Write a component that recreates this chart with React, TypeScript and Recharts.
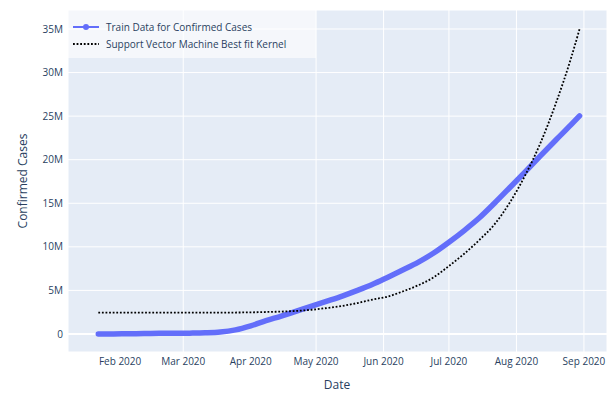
import React from "react";
import {
  LineChart,
  Line,
  XAxis,
  YAxis,
  CartesianGrid,
  ReferenceLine,
} from "recharts";

// weekly snapshots, Jan 22 -> Aug 30 2020
const dates = [
  "2020-01-22", "2020-01-29", "2020-02-05", "2020-02-12", "2020-02-19",
  "2020-02-26", "2020-03-04", "2020-03-11", "2020-03-18", "2020-03-25",
  "2020-04-01", "2020-04-08", "2020-04-15", "2020-04-22", "2020-04-29",
  "2020-05-06", "2020-05-13", "2020-05-20", "2020-05-27", "2020-06-03",
  "2020-06-10", "2020-06-17", "2020-06-24", "2020-07-01", "2020-07-08",
  "2020-07-15", "2020-07-22", "2020-07-29", "2020-08-05", "2020-08-12",
  "2020-08-19", "2020-08-26", "2020-08-30",
];

// confirmed cases (training data)
const confirmed = [
  555, 6166, 28276, 45220, 75641,
  81393, 95120, 126214, 214910, 467594,
  932605, 1518719, 2056054, 2623231, 3185195,
  3759967, 4347018, 4997472, 5701332, 6519570,
  7360239, 8240000, 9290000, 10530000, 11870000,
  13330000, 15030000, 16810000, 18610000, 20430000,
  22230000, 23990000, 25030000,
];

// SVM polynomial kernel fit
const svmFit = [
  2450000, 2450000, 2450000, 2450000, 2450000,
  2450000, 2450000, 2450000, 2450000, 2460000,
  2480000, 2520000, 2570000, 2650000, 2780000,
  2980000, 3220000, 3550000, 3950000, 4300000,
  4900000, 5600000, 6500000, 7800000, 9200000,
  10800000, 12600000, 15100000, 18200000, 21900000,
  26400000, 31600000, 35000000,
];

const monthTicks = [
  "2020-02-01", "2020-03-01", "2020-04-01", "2020-05-01",
  "2020-06-01", "2020-07-01", "2020-08-01", "2020-09-01",
];
const yTicks = [0, 5e6, 10e6, 15e6, 20e6, 25e6, 30e6, 35e6];

const MONTHS = ["Jan", "Feb", "Mar", "Apr", "May", "Jun", "Jul", "Aug", "Sep", "Oct", "Nov", "Dec"];
const ts = (s: string) => Date.parse(s + "T00:00:00Z");

const data = dates.map((d, i) => ({
  t: ts(d),
  confirmed: confirmed[i],
  svm: svmFit[i],
}));

const FONT = '"Open Sans", verdana, arial, sans-serif';
const TEXT = "#2a3f5f";
const BLUE = "#636efa";

const fmtDate = (v: number) => {
  const d = new Date(v);
  return `${MONTHS[d.getUTCMonth()]} ${d.getUTCFullYear()}`;
};
const fmtM = (v: number) => (v === 0 ? "0" : `${Math.round(v / 1e6)}M`);

export default function App() {
  return (
    <div style={{ position: "absolute", left: 0, top: 0, width: 614, height: 394, background: "#fff", fontFamily: FONT }}>
      <LineChart
        width={614}
        height={394}
        data={data}
        margin={{ top: 10, right: 7, left: 0, bottom: 0 }}
      >
        <CartesianGrid fill="#E5ECF6" stroke="#ffffff" strokeWidth={1} />
        <XAxis
          dataKey="t"
          type="number"
          scale="time"
          domain={[Date.UTC(2020, 0, 8, 2), Date.UTC(2020, 8, 11, 14)]}
          ticks={monthTicks.map(ts)}
          tickFormatter={fmtDate}
          height={42}
          axisLine={false}
          tickLine={false}
          tickSize={0}
          tickMargin={6}
          tick={{ fill: TEXT, fontSize: 10, fontFamily: FONT }}
        />
        <YAxis
          type="number"
          domain={[-2.07e6, 37.18e6]}
          ticks={yTicks}
          tickFormatter={fmtM}
          width={68}
          axisLine={false}
          tickLine={false}
          tickSize={0}
          tickMargin={5}
          tick={{ fill: TEXT, fontSize: 10, fontFamily: FONT }}
        />
        <ReferenceLine y={0} stroke="#ffffff" strokeWidth={2} />
        <Line
          type="monotone"
          dataKey="confirmed"
          stroke={BLUE}
          strokeWidth={5.5}
          strokeLinecap="round"
          dot={false}
          activeDot={false}
          isAnimationActive={false}
        />
        <Line
          type="monotone"
          dataKey="svm"
          stroke="#000000"
          strokeWidth={1.8}
          strokeDasharray="1.8 1.8"
          dot={false}
          activeDot={false}
          isAnimationActive={false}
        />
      </LineChart>

      {/* axis titles */}
      <div
        style={{
          position: "absolute",
          left: 22,
          top: 181,
          transform: "translate(-50%, -50%) rotate(-90deg)",
          fontSize: 12,
          color: TEXT,
          whiteSpace: "nowrap",
        }}
      >
        Confirmed Cases
      </div>
      <div
        style={{
          position: "absolute",
          left: 337,
          top: 384,
          transform: "translate(-50%, -50%)",
          fontSize: 12,
          color: TEXT,
        }}
      >
        Date
      </div>

      {/* legend */}
      <div
        style={{
          position: "absolute",
          left: 68,
          top: 10,
          width: 248,
          height: 48,
          background: "rgba(255,255,255,0.6)",
          fontSize: 10,
          color: TEXT,
        }}
      >
        <div style={{ position: "absolute", left: 5, top: 10, display: "flex", alignItems: "center", height: 14 }}>
          <svg width={26} height={14}>
            <line x1={0} y1={7} x2={26} y2={7} stroke={BLUE} strokeWidth={2} />
            <circle cx={13} cy={7} r={3} fill={BLUE} />
          </svg>
          <span style={{ marginLeft: 7, whiteSpace: "nowrap" }}>Train Data for Confirmed Cases</span>
        </div>
        <div style={{ position: "absolute", left: 5, top: 27, display: "flex", alignItems: "center", height: 14 }}>
          <svg width={26} height={14}>
            <line x1={0} y1={7} x2={26} y2={7} stroke="#000" strokeWidth={1.8} strokeDasharray="1.8 1.8" />
          </svg>
          <span style={{ marginLeft: 7, whiteSpace: "nowrap" }}>Support Vector Machine Best fit Kernel</span>
        </div>
      </div>
    </div>
  );
}
